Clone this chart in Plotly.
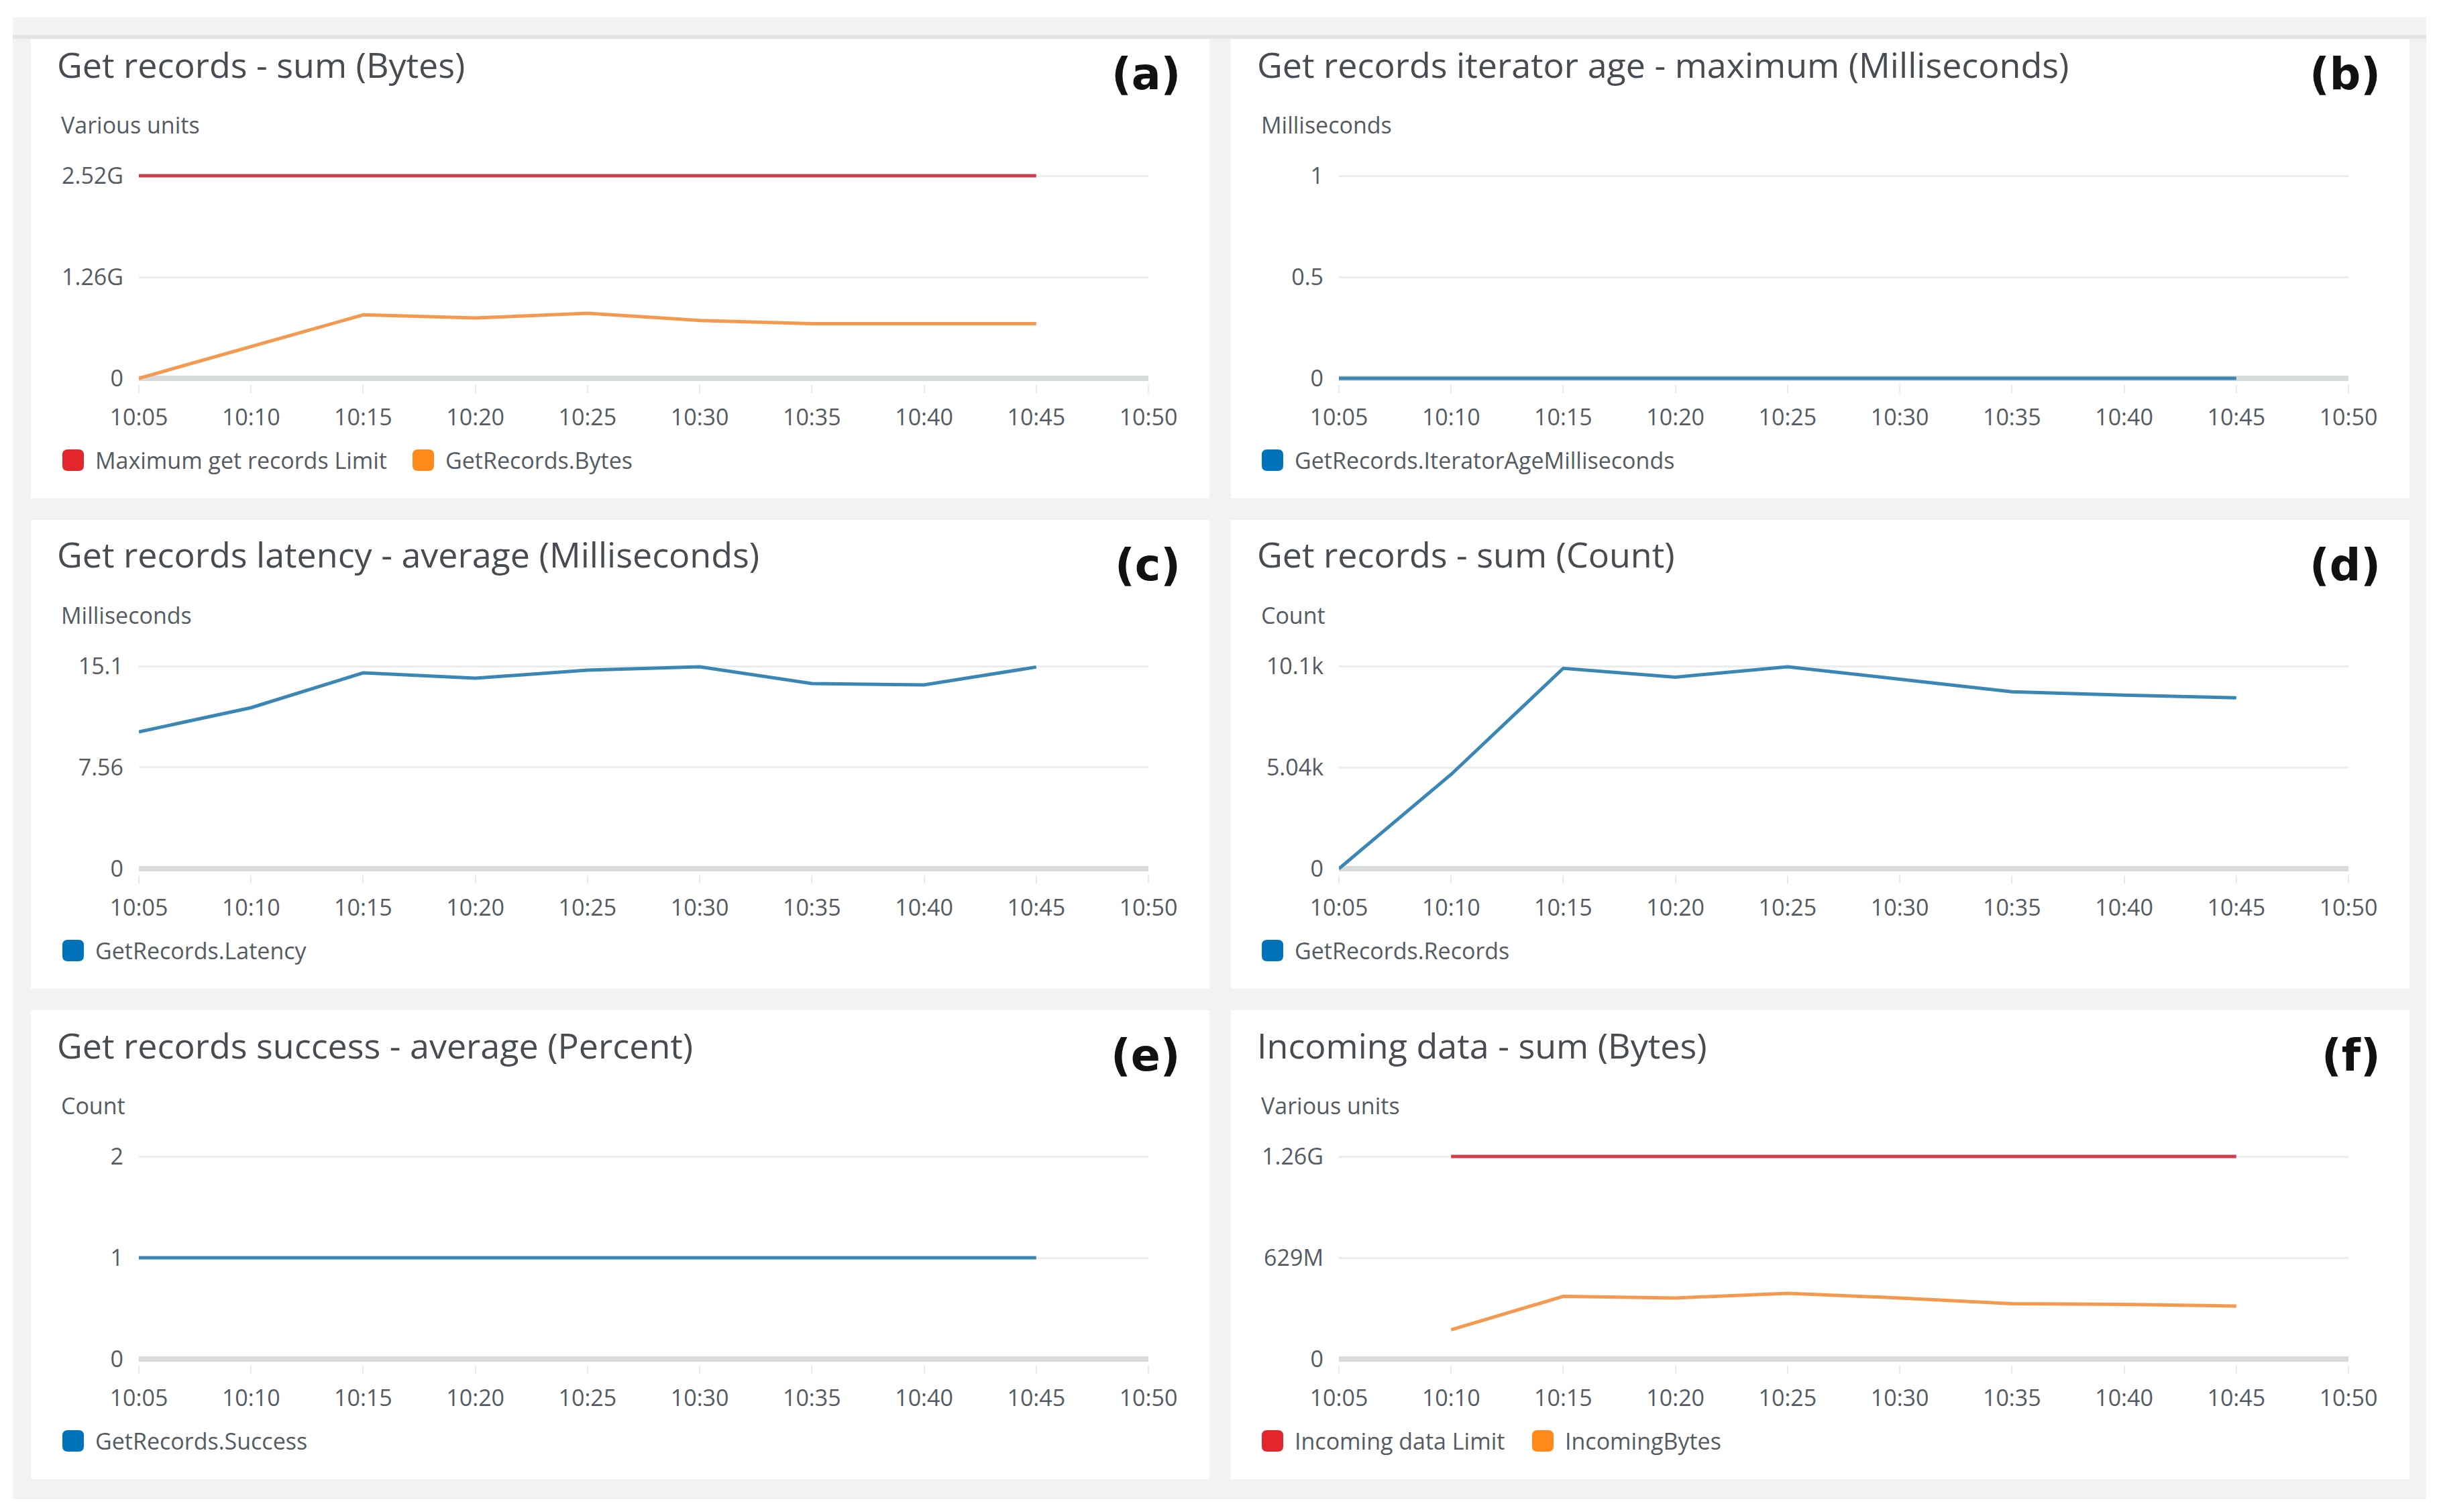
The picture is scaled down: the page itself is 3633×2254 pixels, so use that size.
import plotly.graph_objects as go

W, H = 3633, 2254

# ---------------- data ----------------
time_labels = ["10:05", "10:10", "10:15", "10:20", "10:25", "10:30", "10:35", "10:40", "10:45", "10:50"]

# (a) Get records - sum (Bytes)
a_times = ["10:05", "10:10", "10:15", "10:20", "10:25", "10:30", "10:35", "10:40", "10:45"]
a_limit = [2.52e9, 2.52e9, 2.52e9, 2.52e9, 2.52e9, 2.52e9, 2.52e9, 2.52e9, 2.52e9]
a_bytes = [0.0, 0.39e9, 0.79e9, 0.75e9, 0.81e9, 0.72e9, 0.68e9, 0.68e9, 0.68e9]
a_tickvals = [0, 1.26e9, 2.52e9]
a_ticktext = ["0", "1.26G", "2.52G"]

# (b) Get records iterator age - maximum (Milliseconds)
b_times = ["10:05", "10:10", "10:15", "10:20", "10:25", "10:30", "10:35", "10:40", "10:45"]
b_age = [0, 0, 0, 0, 0, 0, 0, 0, 0]
b_tickvals = [0, 0.5, 1]
b_ticktext = ["0", "0.5", "1"]

# (c) Get records latency - average (Milliseconds)
c_times = ["10:05", "10:10", "10:15", "10:20", "10:25", "10:30", "10:35", "10:40", "10:45"]
c_latency = [10.2, 12.0, 14.6, 14.2, 14.8, 15.05, 13.8, 13.7, 15.03]
c_tickvals = [0, 7.56, 15.1]
c_ticktext = ["0", "7.56", "15.1"]

# (d) Get records - sum (Count)
d_times = ["10:05", "10:10", "10:15", "10:20", "10:25", "10:30", "10:35", "10:40", "10:45"]
d_records = [0, 4700, 9990, 9550, 10070, 9450, 8820, 8650, 8520]
d_tickvals = [0, 5040, 10100]
d_ticktext = ["0", "5.04k", "10.1k"]

# (e) Get records success - average (Percent)
e_times = ["10:05", "10:10", "10:15", "10:20", "10:25", "10:30", "10:35", "10:40", "10:45"]
e_success = [1, 1, 1, 1, 1, 1, 1, 1, 1]
e_tickvals = [0, 1, 2]
e_ticktext = ["0", "1", "2"]

# (f) Incoming data - sum (Bytes)
f_times = ["10:10", "10:15", "10:20", "10:25", "10:30", "10:35", "10:40", "10:45"]
f_limit = [1.26e9, 1.26e9, 1.26e9, 1.26e9, 1.26e9, 1.26e9, 1.26e9, 1.26e9]
f_incoming = [0.182e9, 0.39e9, 0.38e9, 0.409e9, 0.38e9, 0.344e9, 0.34e9, 0.33e9]
f_tickvals = [0, 0.629e9, 1.26e9]
f_ticktext = ["0", "629M", "1.26G"]

# ---------------- styles ----------------
RED_LINE, RED_SW = "#cf3e48", "#e3262c"
ORANGE_LINE, ORANGE_SW = "#f5994f", "#ff8a1c"
BLUE_LINE, BLUE_SW = "#3a87b6", "#0073bb"
FONT = "Open Sans"
TITLE_COLOR = "#474c52"
TEXT_COLOR = "#545b62"

panels = [
    dict(title="Get records - sum (Bytes)", tag="(a)", unit="Various units",
         tickvals=a_tickvals, ticktext=a_ticktext,
         series=[(a_times, a_limit, RED_LINE, RED_SW, "Maximum get records Limit"),
                 (a_times, a_bytes, ORANGE_LINE, ORANGE_SW, "GetRecords.Bytes")],
         legend_x=[47, 569]),
    dict(title="Get records iterator age - maximum (Milliseconds)", tag="(b)", unit="Milliseconds",
         tickvals=b_tickvals, ticktext=b_ticktext,
         series=[(b_times, b_age, BLUE_LINE, BLUE_SW, "GetRecords.IteratorAgeMilliseconds")],
         legend_x=[46]),
    dict(title="Get records latency - average (Milliseconds)", tag="(c)", unit="Milliseconds",
         tickvals=c_tickvals, ticktext=c_ticktext,
         series=[(c_times, c_latency, BLUE_LINE, BLUE_SW, "GetRecords.Latency")],
         legend_x=[47]),
    dict(title="Get records - sum (Count)", tag="(d)", unit="Count",
         tickvals=d_tickvals, ticktext=d_ticktext,
         series=[(d_times, d_records, BLUE_LINE, BLUE_SW, "GetRecords.Records")],
         legend_x=[46]),
    dict(title="Get records success - average (Percent)", tag="(e)", unit="Count",
         tickvals=e_tickvals, ticktext=e_ticktext,
         series=[(e_times, e_success, BLUE_LINE, BLUE_SW, "GetRecords.Success")],
         legend_x=[47]),
    dict(title="Incoming data - sum (Bytes)", tag="(f)", unit="Various units",
         tickvals=f_tickvals, ticktext=f_ticktext,
         series=[(f_times, f_limit, RED_LINE, RED_SW, "Incoming data Limit"),
                 (f_times, f_incoming, ORANGE_LINE, ORANGE_SW, "IncomingBytes")],
         legend_x=[46, 449]),
]

# the page body adds an 8 px margin around the figure; compensate for it
OFF = 8


def px(x):
    return (x - OFF) / W


def py(y):
    return 1 - (y - OFF) / H


def rounded_rect(x0, y0, x1, y1, r):
    # pixel coords (y down) -> paper path
    return (f"M {px(x0 + r)},{py(y0)} L {px(x1 - r)},{py(y0)} "
            f"Q {px(x1)},{py(y0)} {px(x1)},{py(y0 + r)} L {px(x1)},{py(y1 - r)} "
            f"Q {px(x1)},{py(y1)} {px(x1 - r)},{py(y1)} L {px(x0 + r)},{py(y1)} "
            f"Q {px(x0)},{py(y1)} {px(x0)},{py(y1 - r)} L {px(x0)},{py(y0 + r)} "
            f"Q {px(x0)},{py(y0)} {px(x0 + r)},{py(y0)} Z")


fig = go.Figure()
shapes = []
annotations = []

# page container
shapes.append(dict(type="rect", xref="paper", yref="paper", layer="below",
                   x0=px(19), x1=px(3617), y0=py(2235), y1=py(26),
                   fillcolor="#f2f2f2", line=dict(width=0)))

col_off = [0, 1789]
row_off = [0, 731, 1462]
card_left = 46
card_w = 1757

for i, p in enumerate(panels):
    r, c = divmod(i, 2)
    ox, oy = col_off[c], row_off[r]
    cl = card_left + ox
    cr = cl + card_w

    # card
    shapes.append(dict(type="rect", xref="paper", yref="paper", layer="below",
                       x0=px(cl), x1=px(cr), y0=py(743 + oy), y1=py(44 + oy),
                       fillcolor="#ffffff", line=dict(width=0)))

    zero_px = 564 + oy
    top_px = 262 + oy
    h = zero_px - top_px
    T = p["tickvals"][-1]
    lo_f, hi_f = 0.03, 1.06
    ydom = [py(zero_px + lo_f * h), py(zero_px - hi_f * h)]
    xdom = [px(207 + ox), px(1712 + ox)]

    sfx = "" if i == 0 else str(i + 1)
    fig.update_layout(**{
        f"xaxis{sfx}": dict(
            domain=xdom, anchor=f"y{sfx}", type="category", automargin=False,
            categoryorder="array", categoryarray=time_labels,
            tickvals=time_labels, ticktext=time_labels,
            range=[0, len(time_labels) - 1], showgrid=False, zeroline=False, showline=False,
            ticks="outside", ticklen=12, tickwidth=2, tickcolor="#e9e9e9",
            ticklabelstandoff=7,
            tickfont=dict(family=FONT, size=34, color=TEXT_COLOR), fixedrange=True),
        f"yaxis{sfx}": dict(
            domain=ydom, anchor=f"x{sfx}", range=[-lo_f * T, hi_f * T], automargin=False,
            tickvals=p["tickvals"], ticktext=p["ticktext"],
            showgrid=True, gridcolor="#eceeee", gridwidth=3,
            zeroline=True, zerolinecolor="#d8dbdb", zerolinewidth=8,
            showline=False, ticks="", ticklabelstandoff=22,
            tickfont=dict(family=FONT, size=34, color=TEXT_COLOR), fixedrange=True),
    })

    for (xs, ys, lc, sc, name) in p["series"]:
        fig.add_trace(go.Scatter(x=xs, y=ys, mode="lines", name=name,
                                 line=dict(color=lc, width=5),
                                 xaxis=f"x{sfx}", yaxis=f"y{sfx}",
                                 showlegend=False, hoverinfo="skip"))

    # title
    annotations.append(dict(xref="paper", yref="paper", x=px(cl + 37), y=py(95 + oy),
                            xanchor="left", yanchor="middle", showarrow=False,
                            text=p["title"], font=dict(family=FONT, size=52, color=TITLE_COLOR)))
    # tag
    annotations.append(dict(xref="paper", yref="paper", x=px(cr - 41), y=py(111 + oy),
                            xanchor="right", yanchor="middle", showarrow=False,
                            text=f"<b>{p['tag']}</b>",
                            font=dict(family="DejaVu Sans", size=65, color="#111111")))
    # unit label
    annotations.append(dict(xref="paper", yref="paper", x=px(cl + 43), y=py(186 + oy),
                            xanchor="left", yanchor="middle", showarrow=False,
                            text=p["unit"], font=dict(family=FONT, size=34, color=TEXT_COLOR)))
    # legend
    for (xs, ys, lc, sc, name), lx in zip(p["series"], p["legend_x"]):
        sx = cl + lx
        ly = 686 + oy
        shapes.append(dict(type="path", xref="paper", yref="paper",
                           path=rounded_rect(sx, ly - 16, sx + 32, ly + 16, 8),
                           fillcolor=sc, line=dict(width=0)))
        annotations.append(dict(xref="paper", yref="paper", x=px(sx + 47), y=py(ly),
                                xanchor="left", yanchor="middle", showarrow=False,
                                text=name, font=dict(family=FONT, size=34, color=TEXT_COLOR)))

# top band of the container
shapes.append(dict(type="rect", xref="paper", yref="paper", layer="below",
                   x0=px(19), x1=px(3617), y0=py(57), y1=py(26),
                   fillcolor="#f3f3f3", line=dict(width=0)))
shapes.append(dict(type="rect", xref="paper", yref="paper", layer="below",
                   x0=px(19), x1=px(3617), y0=py(58), y1=py(52),
                   fillcolor="#e4e4e4", line=dict(width=0)))

fig.update_layout(width=W, height=H, margin=dict(l=0, r=0, t=0, b=0, pad=0, autoexpand=False),
                  paper_bgcolor="#ffffff", plot_bgcolor="rgba(0,0,0,0)",
                  shapes=shapes, annotations=annotations, showlegend=False,
                  font=dict(family=FONT))

fig.write_html("out.html")
